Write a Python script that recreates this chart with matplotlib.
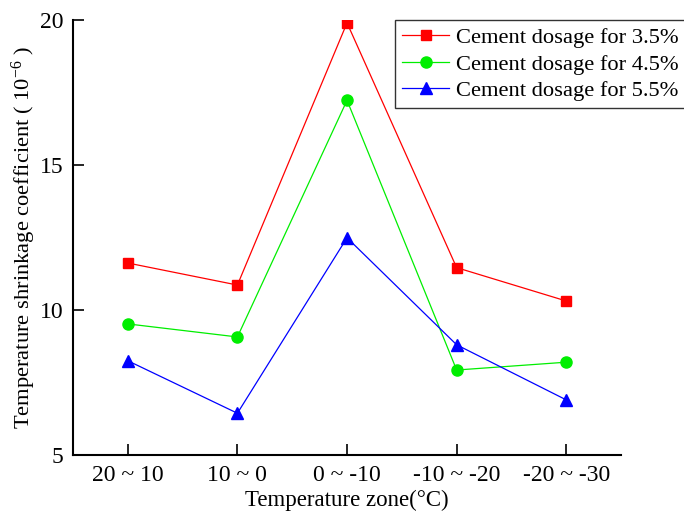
import matplotlib
matplotlib.use("Agg")
import matplotlib.pyplot as plt

plt.rcParams["font.family"] = ["Liberation Serif", "DejaVu Serif"]
plt.rcParams["mathtext.fontset"] = "custom"
plt.rcParams["mathtext.rm"] = "Liberation Serif"
plt.rcParams["mathtext.it"] = "Liberation Serif:italic"

zones = ["20 ~ 10", "10 ~ 0", "0 ~ -10", "-10 ~ -20", "-20 ~ -30"]
dosage_35 = [11.62, 10.86, 19.90, 11.46, 10.31]
dosage_45 = [9.52, 9.07, 17.23, 7.93, 8.20]
dosage_55 = [8.25, 6.44, 12.49, 8.80, 6.90]

fig = plt.figure(figsize=(6.84, 5.11), dpi=100)
ax = fig.add_axes([0.1067, 0.1096, 0.8013, 0.8513])

x = list(range(len(zones)))
ax.plot(x, dosage_35, color="#ff0000", lw=0.9, marker="s", ms=7.5,
        label="Cement dosage for 3.5%")
ax.plot(x, dosage_45, color="#00ee00", lw=0.9, marker="o", ms=8,
        label="Cement dosage for 4.5%")
ax.plot(x, dosage_55, color="#0000ff", lw=0.9, marker="^", ms=8.5,
        label="Cement dosage for 5.5%")

ax.set_xlim(-0.5, 4.5)
ax.set_ylim(5, 20)
ax.set_yticks([5, 10, 15, 20])
ax.set_xticks(x)
ax.set_xticklabels(zones)

for side in ("top", "right"):
    ax.spines[side].set_visible(False)
for side in ("left", "bottom"):
    ax.spines[side].set_linewidth(1.5)

ax.tick_params(direction="in", length=8, width=1.2, labelsize=17, pad=7)

ax.set_xlabel("Temperature zone(°C)", fontsize=16.5, labelpad=3)
ax.set_ylabel("Temperature shrinkage coefficient ( 10$^{-6}$ )", fontsize=16.2, labelpad=1)

leg = ax.legend(loc="upper left", bbox_to_anchor=(0.587, 1.0), fontsize=16.2,
                frameon=True, fancybox=False, edgecolor="black",
                borderpad=0.33, labelspacing=0.25, handlelength=2.1,
                handletextpad=0.3, borderaxespad=0)
leg.get_frame().set_linewidth(1.0)

fig.savefig("out.png", dpi=100)
